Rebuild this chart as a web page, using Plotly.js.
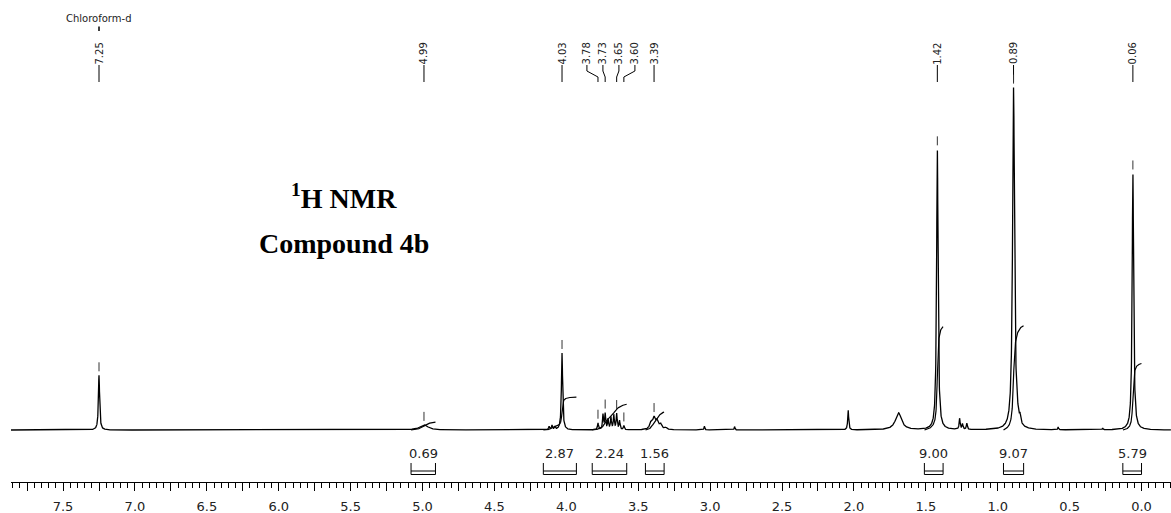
<!DOCTYPE html>
<html>
<head>
<meta charset="utf-8">
<script src="https://cdn.plot.ly/plotly-3.0.1.min.js"></script>
<style>
  html, body { margin: 0; padding: 0; background: #fff; }
  #chart { width: 1171px; height: 513px; }
</style>
</head>
<body>
<div id="chart"></div>
<script>
// 1H NMR spectrum of compound 4b (CDCl3), chemical shift in ppm.

// Resolved lines: position (ppm), relative height (tallest = 100), half width at half height (ppm)
const linePpm = [7.25, 4.99, 4.12, 4.10, 4.08, 4.03,
                 3.78, 3.745, 3.73, 3.71, 3.69, 3.67, 3.65, 3.63, 3.60,
                 3.41, 3.39, 3.37, 3.345, 3.31,
                 3.04, 2.83, 2.04, 1.69, 1.42, 1.265, 1.245, 1.215,
                 0.89, 0.865, 0.845, 0.58, 0.27, 0.06];
const lineHeight = [16.0, 1.5, 1.0, 1.3, 0.9, 22.5,
                    2.0, 4.4, 4.6, 3.0, 3.6, 4.2, 4.6, 2.6, 1.2,
                    2.0, 3.0, 2.3, 1.5, 0.6,
                    1.1, 1.0, 5.8, 5.0, 82.0, 3.2, 1.6, 1.8,
                    100.0, 2.0, 2.0, 0.8, 0.5, 75.0];
const lineHalfWidth = [0.005, 0.035, 0.004, 0.004, 0.004, 0.005,
                       0.004, 0.004, 0.004, 0.004, 0.004, 0.004, 0.004, 0.004, 0.004,
                       0.012, 0.010, 0.010, 0.010, 0.010,
                       0.003, 0.003, 0.004, 0.025, 0.006, 0.004, 0.004, 0.004,
                       0.008, 0.005, 0.005, 0.003, 0.003, 0.006];

// Picked peaks, labelled across the top
const pickedPeaks = [7.25, 4.99, 4.03, 3.78, 3.73, 3.65, 3.60, 3.39, 1.42, 0.89, 0.06];

// Integration regions (ppm) and their relative integrals
const integralFrom  = [5.08, 4.16, 3.82, 3.45, 1.51, 0.96, 0.13];
const integralTo    = [4.91, 3.93, 3.58, 3.32, 1.38, 0.82, 0.00];
const integralValue = [0.69, 2.87, 2.24, 1.56, 9.00, 9.07, 5.79];

// Solvent reference
const solventName = 'Chloroform-d';
const solventPpm = 7.25;

// Labelled axis ticks
const tickValues = [7.5, 7.0, 6.5, 6.0, 5.5, 5.0, 4.5, 4.0, 3.5, 3.0, 2.5, 2.0, 1.5, 1.0, 0.5, 0.0];
const tickLabels = ['7.5', '7.0', '6.5', '6.0', '5.5', '5.0', '4.5', '4.0',
                    '3.5', '3.0', '2.5', '2.0', '1.5', '1.0', '0.5', '0.0'];

// ---- geometry of the plot ----
const W = 1171, H = 513;
const M = { l: 11, r: 0, t: 0, b: 31 };
const plotW = W - M.l - M.r, plotH = H - M.t - M.b;
const xRange = [7.862, -0.205];
const yRange = [-15.2, 125.74];
const pxPerPpm = plotW / (xRange[0] - xRange[1]);
const ppmToPx = p => (xRange[0] - p) * pxPerPpm;
const pxToPpm = px => xRange[0] - px / pxPerPpm;
const pyToPaper = py => (plotH - py) / plotH;   // py measured from top of plot area
const integralScale = 3.36;                     // height units per integral unit

// Spectrum as the sum of Lorentzian lines
function intensity(p) {
  let s = 0;
  for (let i = 0; i < linePpm.length; i++) {
    const d = p - linePpm[i], g = lineHalfWidth[i];
    s += lineHeight[i] * g * g / (d * d + g * g);
  }
  return s;
}

const step = 0.0008;
const specX = [], specY = [];
for (let p = xRange[0]; p >= xRange[1]; p -= step) {
  specX.push(p);
  specY.push(intensity(p));
}

const traces = [{
  type: 'scatter', mode: 'lines', x: specX, y: specY,
  line: { color: '#000', width: 1.3 }, hoverinfo: 'skip'
}];

// Integral curves: running sum of the spectrum across each region
for (let k = 0; k < integralValue.length; k++) {
  const xs = [], cum = [];
  let s = 0;
  for (let i = 0; i < specX.length; i++) {
    const p = specX[i];
    if (p <= integralFrom[k] && p >= integralTo[k]) {
      s += specY[i];
      xs.push(p);
      cum.push(s);
    }
  }
  const total = cum[cum.length - 1];
  const ys = cum.map(v => v / total * integralValue[k] * integralScale);
  traces.push({
    type: 'scatter', mode: 'lines', x: xs, y: ys,
    line: { color: '#000', width: 1.2 }, hoverinfo: 'skip'
  });
}

// Tick-only companion axis (quarter-ppm ticks and 0.05 ppm minor ticks)
traces.push({ type: 'scatter', mode: 'lines', x: [xRange[0], xRange[1]], y: [null, null],
              xaxis: 'x2', yaxis: 'y', hoverinfo: 'skip', showlegend: false });

const shapes = [];
const annotations = [];

// Peak labels, spread apart where they crowd, with leader lines
const labelFont = { family: 'DejaVu Sans', size: 10, color: '#222' };
const peakPx = pickedPeaks.map(ppmToPx);
const order = peakPx.map((v, i) => i).sort((a, b) => peakPx[a] - peakPx[b]);
const gap = 16;
let blocks = order.map(i => ({ items: [i] }));
function place(b) {
  const c = b.items.reduce((s, i) => s + peakPx[i], 0) / b.items.length;
  b.start = c - (b.items.length - 1) / 2 * gap;
  b.end = b.start + (b.items.length - 1) * gap;
}
blocks.forEach(place);
let merged = true;
while (merged) {
  merged = false;
  for (let j = 0; j < blocks.length - 1; j++) {
    if (blocks[j + 1].start - blocks[j].end < gap) {
      blocks[j].items = blocks[j].items.concat(blocks[j + 1].items);
      blocks.splice(j + 1, 1);
      place(blocks[j]);
      merged = true;
      break;
    }
  }
}
const labelPx = [];
blocks.forEach(b => b.items.forEach((i, n) => { labelPx[i] = b.start + n * gap; }));

const yTextMid = 53.5, yLeadTop = 65, yBend1 = 71, yBend2 = 77, yLeadBot = 82;
pickedPeaks.forEach((p, i) => {
  const lx = pxToPpm(labelPx[i]);
  annotations.push({
    xref: 'x', yref: 'paper', x: lx, y: pyToPaper(yTextMid),
    text: p.toFixed(2), textangle: -90, showarrow: false,
    xanchor: 'center', yanchor: 'middle', font: labelFont
  });
  let path;
  if (Math.abs(labelPx[i] - peakPx[i]) < 0.5) {
    path = `M ${p} ${pyToPaper(yLeadTop)} L ${p} ${pyToPaper(yLeadBot)}`;
  } else {
    path = `M ${lx} ${pyToPaper(yLeadTop)} L ${lx} ${pyToPaper(yBend1)} ` +
           `L ${p} ${pyToPaper(yBend2)} L ${p} ${pyToPaper(yLeadBot)}`;
  }
  shapes.push({ type: 'path', xref: 'x', yref: 'paper', path: path,
                line: { color: '#000', width: 1 } });
  // small tick just above each picked peak
  shapes.push({
    type: 'line', xref: 'x', yref: 'y', ysizemode: 'pixel', yanchor: intensity(p),
    x0: p, x1: p, y0: 4, y1: 13, line: { color: '#333', width: 1 }
  });
});

// Solvent label
annotations.push({
  xref: 'x', yref: 'paper', x: solventPpm, y: pyToPaper(19), text: solventName,
  showarrow: false, xanchor: 'center', yanchor: 'middle',
  font: { family: 'DejaVu Sans', size: 10, color: '#222' }
});
shapes.push({ type: 'line', xref: 'x', yref: 'paper', x0: solventPpm, x1: solventPpm,
              y0: pyToPaper(26.5), y1: pyToPaper(31), line: { color: '#000', width: 1.5 } });

// Integral brackets and values
const yIntText = 453, yBrTop = 463, yBrMid = 471, yBrBot = 474.5;
integralValue.forEach((v, k) => {
  const a = integralFrom[k], b = integralTo[k];
  annotations.push({
    xref: 'x', yref: 'paper', x: (a + b) / 2, y: pyToPaper(yIntText), text: v.toFixed(2),
    showarrow: false, xanchor: 'center', yanchor: 'middle',
    font: { family: 'DejaVu Sans', size: 13, color: '#222' }
  });
  const ln = { color: '#000', width: 1 };
  shapes.push({ type: 'line', xref: 'x', yref: 'paper', x0: a, x1: a, y0: pyToPaper(yBrTop), y1: pyToPaper(yBrBot), line: ln });
  shapes.push({ type: 'line', xref: 'x', yref: 'paper', x0: b, x1: b, y0: pyToPaper(yBrTop), y1: pyToPaper(yBrBot), line: ln });
  shapes.push({ type: 'line', xref: 'x', yref: 'paper', x0: a, x1: b, y0: pyToPaper(yBrMid), y1: pyToPaper(yBrMid), line: ln });
  shapes.push({ type: 'line', xref: 'x', yref: 'paper', x0: a, x1: b, y0: pyToPaper(yBrBot), y1: pyToPaper(yBrBot), line: ln });
});

// Heading
const headFont = { family: 'Liberation Serif', size: 28, color: '#000' };
annotations.push({
  xref: 'paper', yref: 'paper', x: (344 - M.l) / plotW, y: pyToPaper(196),
  text: '<b><sup>1</sup>H NMR</b>', showarrow: false, xanchor: 'center', yanchor: 'middle', font: headFont
});
annotations.push({
  xref: 'paper', yref: 'paper', x: (344 - M.l) / plotW, y: pyToPaper(243),
  text: '<b>Compound 4b</b>', showarrow: false, xanchor: 'center', yanchor: 'middle', font: headFont
});

const layout = {
  width: W, height: H,
  margin: M,
  paper_bgcolor: '#fff', plot_bgcolor: '#fff',
  showlegend: false,
  xaxis: {
    range: xRange, showgrid: false, zeroline: false,
    showline: true, linecolor: '#000', linewidth: 1,
    tickmode: 'array', tickvals: tickValues, ticktext: tickLabels,
    ticks: 'outside', ticklen: 8, tickwidth: 1, tickcolor: '#000',
    tickfont: { family: 'DejaVu Sans', size: 13, color: '#222' },
    ticklabelstandoff: 4,
    fixedrange: true
  },
  xaxis2: {
    overlaying: 'x', anchor: 'y', side: 'bottom',
    range: xRange, showgrid: false, zeroline: false, showline: false,
    showticklabels: false,
    tickmode: 'linear', tick0: 0, dtick: 0.25,
    ticks: 'outside', ticklen: 8, tickwidth: 1, tickcolor: '#000',
    minor: { tickmode: 'linear', tick0: 0, dtick: 0.05, ticks: 'outside', ticklen: 5,
             tickwidth: 1, tickcolor: '#000', showgrid: false },
    fixedrange: true
  },
  yaxis: { range: yRange, visible: false, fixedrange: true },
  shapes: shapes,
  annotations: annotations
};

Plotly.newPlot('chart', traces, layout, { staticPlot: true, displayModeBar: false });
</script>
</body>
</html>
